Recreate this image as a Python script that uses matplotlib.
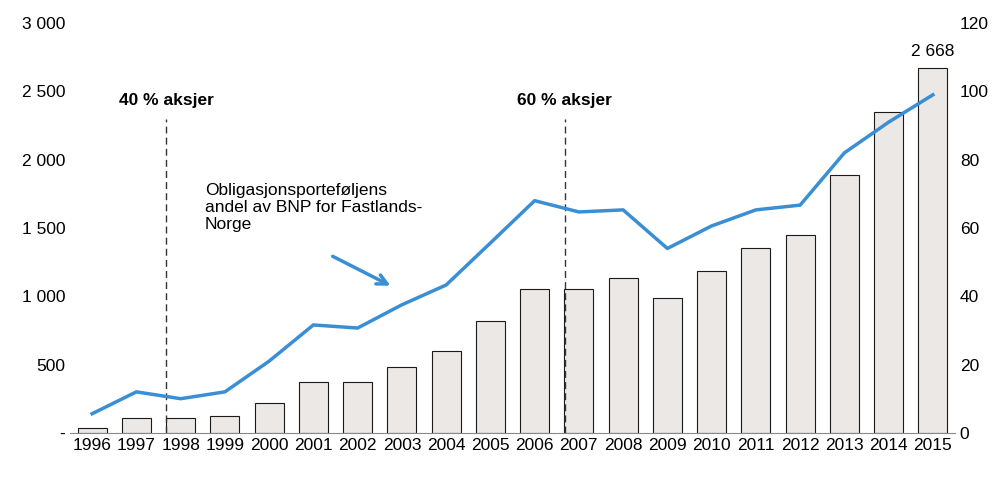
import matplotlib.pyplot as plt
from matplotlib.ticker import FuncFormatter

plt.rcParams["font.family"] = "Liberation Sans"

years = list(range(1996, 2016))
portfolio = [35, 105, 105, 120, 220, 370, 370, 485, 600, 820, 1050, 1050,
             1135, 985, 1185, 1350, 1450, 1885, 2350, 2668]
gdp_share = [5.6, 12, 10, 12, 21, 31.6, 30.7, 37.5, 43.3, 55.6, 68, 64.7,
             65.3, 54, 60.6, 65.3, 66.7, 82, 91, 99]
# equity share changes, as fractional positions between years
regime_pos = [1.67, 10.68]
regime_labels = ["40 % aksjer", "60 % aksjer"]

fig, ax = plt.subplots(figsize=(10, 4.82), dpi=100)
fig.subplots_adjust(left=0.07, right=0.955, top=0.952, bottom=0.102)
x = list(range(len(years)))

ax.bar(x, portfolio, width=0.66, color="#ebe8e5", edgecolor="#1a1a1a", linewidth=0.8, zorder=2)
ax.set_ylim(0, 3000)
ax.set_xlim(-0.5, len(years) - 0.5)
ax.set_yticks(range(0, 3001, 500))
ax.yaxis.set_major_formatter(FuncFormatter(lambda v, p: "-" if v == 0 else f"{int(v):,}".replace(",", " ")))
ax.set_xticks(x)
ax.set_xticklabels(years)
for s in ["top", "right", "left"]:
    ax.spines[s].set_visible(False)
ax.spines["bottom"].set_color("#888888")
ax.tick_params(length=0, labelsize=12.5)

ax.text(x[-1], portfolio[-1] + 70, "2 668", ha="center", va="bottom", fontsize=12.5)

for pos, label in zip(regime_pos, regime_labels):
    ax.plot([pos, pos], [0, 2300], color="#333333", linestyle=(0, (5, 3)), linewidth=1, zorder=3)
    ax.text(pos, 2380, label, ha="center", va="bottom", fontsize=12.5, fontweight="bold")

ax2 = ax.twinx()
ax2.plot(x, gdp_share, color="#3a8fd4", linewidth=2.5, zorder=4)
ax2.set_ylim(0, 120)
ax2.set_yticks(range(0, 121, 20))
for s in ["top", "right", "left", "bottom"]:
    ax2.spines[s].set_visible(False)
ax2.tick_params(length=0, labelsize=12.5)

ax.text(2.55, 1830, "Obligasjonsporteføljens\nandel av BNP for Fastlands-\nNorge",
        ha="left", va="top", fontsize=12.5, linespacing=1.15)
ax.annotate("", xy=(6.8, 1068), xytext=(5.38, 1302),
            arrowprops=dict(arrowstyle="->", color="#3a8fd4", lw=2.5, mutation_scale=18))

fig.savefig("out.png")
